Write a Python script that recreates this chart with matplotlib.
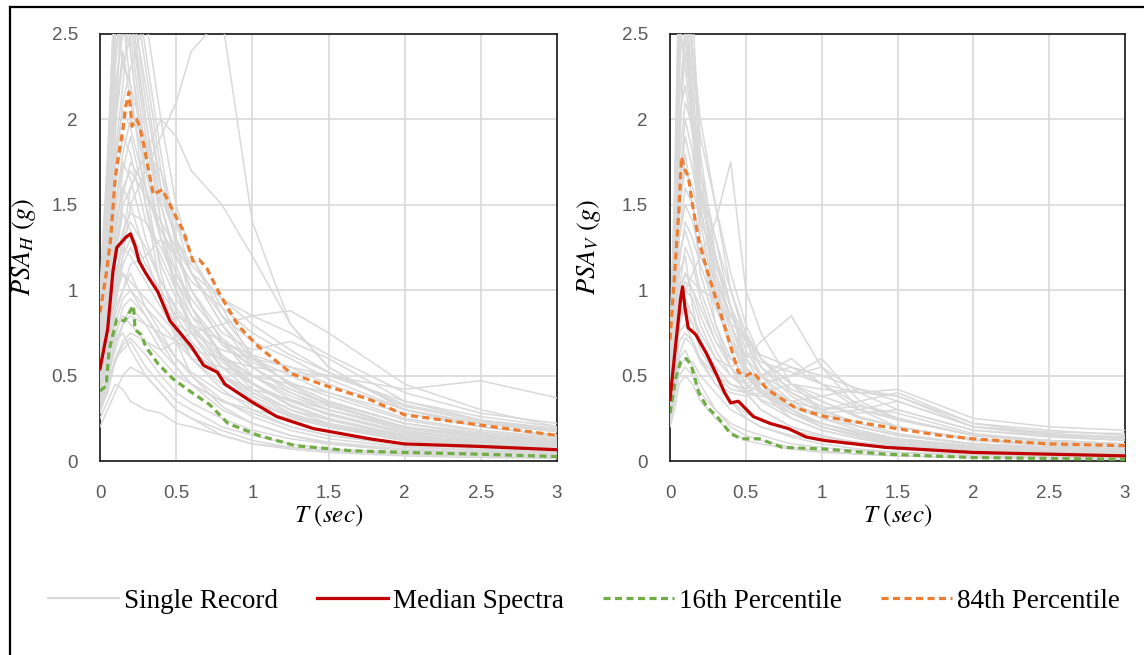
import matplotlib
matplotlib.use("Agg")
import matplotlib.pyplot as plt
from matplotlib.lines import Line2D

plt.rcParams['mathtext.fontset'] = 'stix'

# Periodes des enregistrements (s)
T_H = [0, 0.05, 0.1, 0.15, 0.2, 0.3, 0.4, 0.5, 0.6, 0.8, 1.0, 1.25, 1.5, 2.0, 2.5, 3.0]
T_V = [0, 0.03, 0.06, 0.1, 0.15, 0.2, 0.3, 0.4, 0.5, 0.6, 0.8, 1.0, 1.25, 1.5, 2.0, 2.5, 3.0]

# Spectres individuels, composante horizontale (g)
rec_H = [
    [0.55, 0.9, 1.4, 1.6, 1.5, 1.2, 0.95, 0.8, 0.65, 0.5, 0.38, 0.27, 0.2, 0.12, 0.09, 0.07],
    [0.8, 1.4, 2.3, 2.8, 2.6, 1.9, 1.4, 1.1, 0.9, 0.6, 0.45, 0.32, 0.24, 0.14, 0.1, 0.08],
    [0.4, 0.6, 0.9, 1.0, 1.1, 0.9, 0.75, 0.6, 0.5, 0.36, 0.26, 0.18, 0.13, 0.08, 0.06, 0.05],
    [0.25, 0.35, 0.45, 0.42, 0.35, 0.3, 0.28, 0.22, 0.2, 0.15, 0.1, 0.08, 0.06, 0.04, 0.03, 0.02],
    [0.6, 1.0, 1.8, 2.2, 2.7, 2.2, 1.6, 1.3, 1.1, 0.8, 0.6, 0.45, 0.35, 0.22, 0.15, 0.12],
    [0.5, 0.7, 1.0, 1.3, 1.6, 1.8, 1.7, 1.4, 1.1, 0.8, 0.55, 0.4, 0.3, 0.18, 0.12, 0.09],
    [0.9, 1.5, 2.6, 3.0, 2.4, 1.6, 1.1, 0.8, 0.6, 0.42, 0.3, 0.2, 0.15, 0.09, 0.06, 0.05],
    [0.35, 0.5, 0.75, 0.85, 0.8, 0.7, 0.6, 0.5, 0.45, 0.35, 0.3, 0.25, 0.2, 0.13, 0.1, 0.08],
    [0.5, 0.6, 0.9, 1.2, 1.5, 1.7, 1.9, 2.1, 2.4, 2.6, 1.4, 0.8, 0.55, 0.3, 0.2, 0.15],
    [0.6, 0.8, 1.2, 1.5, 1.6, 1.8, 2.0, 1.9, 1.7, 1.5, 1.2, 0.8, 0.55, 0.3, 0.2, 0.15],
    [0.3, 0.4, 0.6, 0.7, 0.75, 0.7, 0.65, 0.7, 0.75, 0.8, 0.85, 0.88, 0.75, 0.45, 0.3, 0.2],
    [0.35, 0.5, 0.7, 0.8, 0.85, 0.8, 0.75, 0.7, 0.65, 0.6, 0.55, 0.52, 0.5, 0.42, 0.47, 0.37],
    [0.45, 0.75, 1.1, 1.25, 1.2, 1.05, 0.9, 0.75, 0.6, 0.45, 0.35, 0.26, 0.2, 0.12, 0.08, 0.06],
    [0.3, 0.45, 0.6, 0.65, 0.7, 0.55, 0.45, 0.35, 0.3, 0.2, 0.15, 0.1, 0.07, 0.05, 0.03, 0.02],
    [0.7, 1.2, 2.0, 2.4, 2.1, 1.7, 1.5, 1.2, 1.0, 0.7, 0.55, 0.42, 0.33, 0.2, 0.14, 0.11],
    [0.55, 0.85, 1.3, 1.7, 1.9, 1.5, 1.15, 0.95, 0.8, 0.6, 0.5, 0.38, 0.3, 0.19, 0.13, 0.1],
    [0.4, 0.55, 0.8, 0.95, 1.0, 0.85, 0.7, 0.55, 0.45, 0.3, 0.22, 0.15, 0.11, 0.07, 0.05, 0.04],
    [1.0, 1.8, 2.8, 2.6, 2.2, 1.5, 1.0, 0.7, 0.5, 0.32, 0.22, 0.15, 0.1, 0.06, 0.04, 0.03],
    [0.6, 0.9, 1.5, 1.8, 2.0, 1.9, 1.6, 1.3, 1.1, 0.85, 0.7, 0.6, 0.48, 0.3, 0.22, 0.18],
    [0.45, 0.6, 0.85, 1.0, 1.15, 1.2, 1.3, 1.2, 1.0, 0.75, 0.65, 0.7, 0.6, 0.35, 0.24, 0.19],
    [0.5, 0.7, 1.0, 1.2, 1.3, 1.1, 0.95, 0.8, 0.75, 0.65, 0.6, 0.55, 0.45, 0.3, 0.22, 0.17],
    [0.2, 0.3, 0.4, 0.5, 0.55, 0.5, 0.4, 0.3, 0.25, 0.18, 0.12, 0.08, 0.06, 0.04, 0.03, 0.02],
    [0.7, 1.3, 2.5, 3.0, 2.8, 2.1, 1.6, 1.4, 1.2, 0.9, 0.6, 0.45, 0.35, 0.22, 0.16, 0.12],
    [0.35, 0.5, 0.65, 0.8, 0.9, 0.8, 0.65, 0.55, 0.45, 0.35, 0.28, 0.2, 0.15, 0.1, 0.07, 0.05],
    [0.6, 1.0, 1.6, 1.9, 1.8, 1.4, 1.2, 1.0, 0.85, 0.7, 0.6, 0.5, 0.4, 0.25, 0.18, 0.14],
    [0.8, 1.3, 2.2, 2.5, 3.0, 2.4, 1.8, 1.3, 0.9, 0.6, 0.42, 0.3, 0.22, 0.13, 0.09, 0.07],
    [0.45, 0.7, 1.0, 1.1, 1.0, 0.9, 0.8, 0.7, 0.6, 0.55, 0.5, 0.45, 0.4, 0.28, 0.2, 0.15],
    [0.3, 0.45, 0.7, 0.75, 0.65, 0.5, 0.4, 0.3, 0.25, 0.15, 0.1, 0.07, 0.05, 0.03, 0.02, 0.015],
    [0.65, 1.1, 1.9, 2.9, 2.6, 2.0, 1.5, 1.15, 0.9, 0.62, 0.46, 0.33, 0.25, 0.15, 0.11, 0.08],
    [0.75, 1.6, 2.7, 2.3, 2.5, 1.8, 1.3, 1.0, 0.8, 0.55, 0.4, 0.28, 0.21, 0.13, 0.09, 0.07],
    [0.5, 0.95, 1.7, 2.1, 2.3, 2.6, 2.0, 1.5, 1.2, 0.85, 0.62, 0.44, 0.33, 0.2, 0.14, 0.1],
    [0.42, 0.7, 1.2, 1.45, 1.35, 1.15, 1.0, 0.85, 0.7, 0.5, 0.4, 0.3, 0.24, 0.15, 0.11, 0.09],
    [0.58, 0.9, 1.45, 1.75, 1.65, 1.3, 1.05, 0.9, 0.78, 0.58, 0.45, 0.35, 0.28, 0.17, 0.12, 0.09],
    [0.85, 1.5, 2.4, 2.7, 2.9, 2.3, 1.7, 1.25, 1.0, 0.7, 0.5, 0.36, 0.27, 0.16, 0.11, 0.09],
    [0.48, 0.75, 1.15, 1.35, 1.45, 1.4, 1.25, 1.05, 0.9, 0.68, 0.55, 0.42, 0.34, 0.22, 0.16, 0.12],
    [0.38, 0.6, 0.95, 1.1, 1.05, 0.95, 0.85, 0.75, 0.65, 0.5, 0.42, 0.36, 0.3, 0.2, 0.15, 0.12],
    [0.62, 1.05, 1.75, 2.05, 1.95, 1.6, 1.3, 1.1, 0.95, 0.72, 0.58, 0.46, 0.38, 0.24, 0.17, 0.13],
    [0.7, 1.2, 2.1, 2.6, 2.4, 1.7, 1.3, 1.05, 0.85, 0.62, 0.5, 0.4, 0.32, 0.2, 0.14, 0.11],
    [0.33, 0.48, 0.72, 0.9, 0.95, 0.85, 0.72, 0.6, 0.52, 0.4, 0.33, 0.27, 0.22, 0.14, 0.1, 0.08],
    [0.52, 0.8, 1.25, 1.55, 1.75, 1.6, 1.35, 1.2, 1.05, 0.9, 0.75, 0.62, 0.52, 0.33, 0.24, 0.18],
    [0.95, 1.7, 2.9, 3.0, 2.7, 2.0, 1.4, 1.0, 0.75, 0.5, 0.36, 0.26, 0.2, 0.12, 0.08, 0.06],
    [0.44, 0.65, 0.95, 1.15, 1.25, 1.1, 0.95, 0.85, 0.8, 0.7, 0.62, 0.55, 0.5, 0.35, 0.26, 0.2],
    [0.28, 0.42, 0.58, 0.68, 0.72, 0.62, 0.5, 0.4, 0.34, 0.25, 0.18, 0.13, 0.1, 0.06, 0.05, 0.04],
    [0.68, 1.15, 1.95, 2.35, 2.2, 1.85, 1.55, 1.3, 1.15, 0.95, 0.8, 0.65, 0.52, 0.32, 0.23, 0.18],
    [0.56, 0.88, 1.35, 1.6, 1.7, 1.55, 1.4, 1.25, 1.1, 0.95, 0.85, 0.75, 0.62, 0.4, 0.28, 0.22],
    [0.46, 0.72, 1.05, 1.3, 1.4, 1.25, 1.05, 0.88, 0.75, 0.55, 0.45, 0.35, 0.27, 0.17, 0.12, 0.1],
]

# Spectres individuels, composante verticale (g)
rec_V = [
    [0.3, 0.6, 1.1, 1.2, 0.9, 0.7, 0.5, 0.35, 0.25, 0.2, 0.14, 0.1, 0.07, 0.05, 0.03, 0.025, 0.02],
    [0.5, 1.2, 2.4, 2.8, 1.9, 1.3, 0.8, 0.55, 0.4, 0.3, 0.2, 0.15, 0.1, 0.08, 0.05, 0.04, 0.03],
    [0.25, 0.4, 0.6, 0.65, 0.55, 0.45, 0.3, 0.2, 0.15, 0.12, 0.08, 0.06, 0.04, 0.03, 0.02, 0.015, 0.01],
    [0.4, 0.9, 1.8, 2.6, 2.2, 1.5, 1.0, 0.7, 0.5, 0.4, 0.3, 0.22, 0.16, 0.12, 0.08, 0.06, 0.05],
    [0.35, 0.6, 0.9, 1.0, 1.1, 1.2, 1.4, 1.75, 1.0, 0.75, 0.45, 0.3, 0.2, 0.15, 0.1, 0.08, 0.06],
    [0.3, 0.5, 0.8, 0.9, 0.85, 0.75, 0.6, 0.55, 0.6, 0.7, 0.85, 0.55, 0.3, 0.2, 0.12, 0.09, 0.07],
    [0.6, 1.5, 2.8, 2.5, 2.0, 1.6, 1.2, 0.9, 0.65, 0.5, 0.35, 0.25, 0.18, 0.13, 0.09, 0.07, 0.05],
    [0.35, 0.55, 0.9, 1.0, 0.95, 0.8, 0.6, 0.5, 0.45, 0.5, 0.55, 0.45, 0.4, 0.38, 0.2, 0.15, 0.12],
    [0.28, 0.45, 0.7, 0.75, 0.7, 0.6, 0.45, 0.4, 0.38, 0.4, 0.45, 0.42, 0.4, 0.42, 0.25, 0.2, 0.18],
    [0.4, 0.8, 1.5, 1.7, 1.6, 1.4, 1.2, 0.9, 0.6, 0.45, 0.3, 0.22, 0.16, 0.12, 0.08, 0.06, 0.05],
    [0.5, 1.0, 2.0, 2.2, 1.9, 1.6, 1.3, 0.9, 0.55, 0.4, 0.25, 0.18, 0.13, 0.09, 0.06, 0.05, 0.04],
    [0.2, 0.3, 0.45, 0.5, 0.45, 0.35, 0.25, 0.17, 0.12, 0.1, 0.07, 0.05, 0.04, 0.03, 0.02, 0.015, 0.01],
    [0.45, 1.1, 2.2, 3.0, 2.4, 1.7, 1.1, 0.8, 0.55, 0.45, 0.32, 0.28, 0.3, 0.35, 0.2, 0.17, 0.16],
    [0.3, 0.5, 0.75, 0.8, 0.7, 0.6, 0.5, 0.45, 0.42, 0.5, 0.6, 0.45, 0.3, 0.25, 0.15, 0.12, 0.1],
    [0.38, 0.7, 1.2, 1.35, 1.2, 1.0, 0.75, 0.55, 0.4, 0.3, 0.2, 0.15, 0.1, 0.07, 0.05, 0.04, 0.03],
    [0.55, 1.3, 2.6, 2.9, 2.3, 1.9, 1.5, 1.1, 0.8, 0.6, 0.4, 0.3, 0.22, 0.16, 0.1, 0.08, 0.06],
    [0.3, 0.55, 0.95, 1.1, 1.0, 0.9, 0.7, 0.6, 0.5, 0.45, 0.5, 0.55, 0.4, 0.3, 0.18, 0.15, 0.14],
    [0.25, 0.4, 0.55, 0.6, 0.58, 0.5, 0.4, 0.3, 0.25, 0.2, 0.15, 0.12, 0.09, 0.07, 0.05, 0.04, 0.03],
    [0.42, 0.9, 1.6, 2.0, 1.8, 1.3, 0.9, 0.7, 0.55, 0.45, 0.35, 0.3, 0.35, 0.4, 0.22, 0.16, 0.14],
    [0.35, 0.65, 1.0, 1.1, 1.05, 1.0, 0.95, 0.8, 0.75, 0.6, 0.45, 0.35, 0.25, 0.2, 0.12, 0.1, 0.08],
    [0.33, 0.6, 0.85, 0.9, 0.8, 0.65, 0.5, 0.42, 0.4, 0.45, 0.5, 0.6, 0.35, 0.25, 0.15, 0.12, 0.1],
    [0.7, 1.6, 2.9, 2.7, 2.4, 2.0, 1.5, 1.0, 0.7, 0.5, 0.3, 0.2, 0.15, 0.1, 0.07, 0.05, 0.04],
    [0.22, 0.35, 0.5, 0.55, 0.5, 0.4, 0.3, 0.22, 0.18, 0.15, 0.1, 0.08, 0.06, 0.05, 0.04, 0.03, 0.02],
    [0.4, 0.75, 1.3, 1.5, 1.4, 1.2, 1.0, 0.8, 0.6, 0.5, 0.4, 0.32, 0.28, 0.3, 0.18, 0.14, 0.12],
    [0.45, 1.0, 1.9, 2.4, 2.0, 1.4, 0.95, 0.65, 0.45, 0.35, 0.25, 0.18, 0.13, 0.1, 0.07, 0.05, 0.04],
    [0.38, 0.75, 1.4, 1.8, 1.5, 1.1, 0.8, 0.6, 0.5, 0.42, 0.32, 0.25, 0.2, 0.15, 0.1, 0.08, 0.06],
    [0.6, 1.4, 2.7, 2.9, 2.6, 1.8, 1.2, 0.8, 0.55, 0.42, 0.3, 0.22, 0.16, 0.12, 0.08, 0.06, 0.05],
    [0.32, 0.6, 1.0, 1.25, 1.15, 0.95, 0.7, 0.55, 0.45, 0.4, 0.35, 0.3, 0.32, 0.28, 0.16, 0.12, 0.1],
    [0.5, 1.1, 2.1, 2.5, 2.1, 1.7, 1.3, 1.0, 0.75, 0.55, 0.38, 0.28, 0.2, 0.15, 0.1, 0.08, 0.06],
    [0.27, 0.48, 0.8, 0.95, 0.85, 0.7, 0.55, 0.45, 0.4, 0.38, 0.35, 0.38, 0.42, 0.38, 0.22, 0.18, 0.15],
    [0.42, 0.85, 1.55, 1.9, 1.7, 1.45, 1.1, 0.85, 0.7, 0.55, 0.42, 0.35, 0.26, 0.2, 0.13, 0.1, 0.08],
    [0.36, 0.68, 1.15, 1.4, 1.3, 1.15, 0.9, 0.7, 0.62, 0.58, 0.52, 0.45, 0.33, 0.25, 0.15, 0.12, 0.1],
    [0.55, 1.25, 2.5, 2.7, 2.2, 1.6, 1.05, 0.75, 0.52, 0.4, 0.28, 0.2, 0.15, 0.11, 0.07, 0.05, 0.04],
    [0.3, 0.52, 0.85, 1.05, 1.0, 0.85, 0.65, 0.5, 0.42, 0.36, 0.28, 0.22, 0.17, 0.13, 0.08, 0.06, 0.05],
    [0.48, 1.0, 1.75, 2.1, 1.95, 1.55, 1.15, 0.9, 0.72, 0.6, 0.45, 0.38, 0.3, 0.24, 0.15, 0.11, 0.09],
    [0.24, 0.4, 0.62, 0.72, 0.68, 0.58, 0.45, 0.35, 0.28, 0.24, 0.18, 0.14, 0.11, 0.09, 0.06, 0.05, 0.04],
    [0.4, 0.8, 1.3, 1.6, 1.5, 1.3, 1.05, 0.85, 0.7, 0.62, 0.55, 0.5, 0.42, 0.35, 0.2, 0.16, 0.13],
    [0.65, 1.5, 2.6, 2.3, 1.95, 1.5, 1.0, 0.7, 0.5, 0.4, 0.28, 0.2, 0.14, 0.1, 0.07, 0.05, 0.04],
]

# Mediane et percentiles - horizontal
T_med_H = [0, 0.05, 0.085, 0.11, 0.14, 0.17, 0.2, 0.23, 0.256, 0.3, 0.38, 0.46, 0.6, 0.68, 0.77,
           0.82, 0.99, 1.16, 1.4, 1.77, 2.0, 2.5, 3.0]
med_H = [0.54, 0.77, 1.11, 1.25, 1.28, 1.31, 1.33, 1.26, 1.17, 1.1, 0.99, 0.82, 0.67, 0.56, 0.52,
         0.45, 0.35, 0.26, 0.19, 0.13, 0.10, 0.085, 0.066]
T_84_H = [0, 0.04, 0.07, 0.1, 0.12, 0.15, 0.17, 0.19, 0.21, 0.24, 0.26, 0.29, 0.35, 0.41, 0.46,
          0.55, 0.61, 0.65, 0.7, 0.79, 0.91, 1.04, 1.26, 1.52, 1.77, 2.0, 2.5, 3.0]
p84_H = [0.87, 1.09, 1.3, 1.66, 1.78, 1.94, 2.08, 2.16, 1.96, 2.0, 1.96, 1.84, 1.56, 1.59, 1.5,
         1.34, 1.17, 1.18, 1.13, 0.97, 0.79, 0.67, 0.51, 0.43, 0.36, 0.27, 0.21, 0.15]
T_16_H = [0, 0.04, 0.06, 0.11, 0.16, 0.2, 0.22, 0.23, 0.27, 0.3, 0.38, 0.48, 0.62, 0.72, 0.84,
          1.04, 1.28, 1.65, 2.0, 2.5, 3.0]
p16_H = [0.41, 0.44, 0.65, 0.83, 0.82, 0.88, 0.91, 0.77, 0.74, 0.67, 0.57, 0.48, 0.39, 0.33, 0.22,
         0.15, 0.09, 0.06, 0.05, 0.04, 0.026]

# Mediane et percentiles - vertical
T_med_V = [0, 0.036, 0.07, 0.083, 0.1, 0.12, 0.17, 0.24, 0.31, 0.36, 0.4, 0.45, 0.55, 0.66, 0.78,
           0.9, 1.02, 1.42, 2.0, 2.5, 3.0]
med_V = [0.36, 0.67, 0.95, 1.02, 0.89, 0.78, 0.74, 0.63, 0.5, 0.4, 0.34, 0.35, 0.26, 0.22, 0.19,
         0.14, 0.12, 0.08, 0.05, 0.04, 0.03]
T_84_V = [0, 0.03, 0.06, 0.076, 0.095, 0.12, 0.15, 0.19, 0.24, 0.31, 0.38, 0.45, 0.5, 0.55, 0.64,
          0.83, 1.02, 1.42, 1.78, 2.0, 2.5, 3.0]
p84_V = [0.71, 1.09, 1.49, 1.78, 1.71, 1.67, 1.49, 1.29, 1.13, 0.93, 0.73, 0.52, 0.5, 0.52, 0.42,
         0.31, 0.26, 0.2, 0.15, 0.13, 0.1, 0.09]
T_16_V = [0, 0.036, 0.07, 0.107, 0.14, 0.19, 0.24, 0.31, 0.4, 0.47, 0.59, 0.74, 1.02, 1.42, 2.0, 3.0]
p16_V = [0.28, 0.48, 0.58, 0.6, 0.56, 0.4, 0.32, 0.26, 0.16, 0.13, 0.13, 0.08, 0.07, 0.04, 0.02, 0.01]

x_ticks = [0, 0.5, 1, 1.5, 2, 2.5, 3]
y_ticks = [0, 0.5, 1, 1.5, 2, 2.5]

c_rec = '#d9d9d9'
c_med = '#c00000'
c_16 = '#70ad47'
c_84 = '#ed7d31'

fig = plt.figure(figsize=(11.44, 6.55), dpi=100)
ax1 = fig.add_axes([100/1144, 1 - 461/655, 457/1144, 427/655])
ax2 = fig.add_axes([670/1144, 1 - 461/655, 455/1144, 427/655])

panels = [
    (ax1, T_H, rec_H, T_med_H, med_H, T_16_H, p16_H, T_84_H, p84_H, r'$PSA_H\ (g)$', -0.135),
    (ax2, T_V, rec_V, T_med_V, med_V, T_16_V, p16_V, T_84_V, p84_V, r'$PSA_V\ (g)$', -0.147),
]

for ax, T, recs, Tm, med, T16, p16, T84, p84, ylab, ylx in panels:
    for r in recs:
        ax.plot(T, r, color=c_rec, lw=1.1, zorder=3)
    ax.plot(T16, p16, color=c_16, lw=2.3, dashes=(2.2, 1.4), zorder=4)
    ax.plot(T84, p84, color=c_84, lw=2.3, dashes=(2.2, 1.4), zorder=4)
    ax.plot(Tm, med, color=c_med, lw=2.3, zorder=5)

    ax.set_xlim(0, 3)
    ax.set_ylim(0, 2.5)
    ax.set_xticks(x_ticks)
    ax.set_yticks(y_ticks)
    ax.set_xticklabels(['{:g}'.format(v) for v in x_ticks])
    ax.set_yticklabels(['{:g}'.format(v) for v in y_ticks])
    ax.tick_params(length=0, labelsize=13.5, labelcolor='#595959', pad=16)
    ax.tick_params(axis='x', pad=17)
    for lab in ax.get_xticklabels() + ax.get_yticklabels():
        lab.set_fontfamily('Liberation Sans')
    ax.grid(True, color='#d9d9d9', lw=1.2)
    ax.set_axisbelow(True)
    for s in ax.spines.values():
        s.set_color('#262626')
        s.set_linewidth(1.3)

    ax.set_xlabel(r'$T\ (sec)$', fontsize=18, labelpad=1)
    ax.set_ylabel(ylab, fontsize=19)
    ax.yaxis.set_label_coords(ylx, 0.5)

# Legende commune
handles = [
    Line2D([], [], color=c_rec, lw=1.5),
    Line2D([], [], color=c_med, lw=2.3),
    Line2D([], [], color=c_16, lw=2.3, dashes=(2.2, 1.4)),
    Line2D([], [], color=c_84, lw=2.3, dashes=(2.2, 1.4)),
]
labels = ['Single Record', 'Median Spectra', '16th Percentile', '84th Percentile']
fig.legend(handles, labels, loc='center', bbox_to_anchor=(0.5105, 1 - 601/655), ncol=4,
           frameon=False, prop={'family': 'Liberation Serif', 'size': 19.5},
           handlelength=2.6, handletextpad=0.2, columnspacing=1.45)

# Cadre de la figure
fig.add_artist(Line2D([10/1144, 10/1144], [0, 1 - 7/655], color='black', lw=1.6,
                      transform=fig.transFigure))
fig.add_artist(Line2D([10/1144, 1], [1 - 7/655, 1 - 7/655], color='black', lw=1.6,
                      transform=fig.transFigure))

fig.savefig('out.png', dpi=100, facecolor='white')
